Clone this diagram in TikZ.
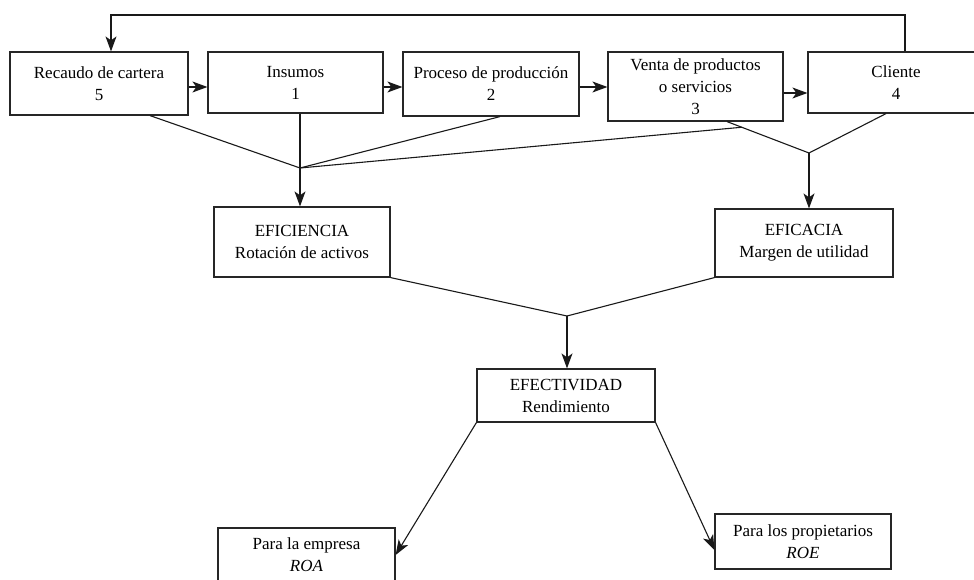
\documentclass[tikz,border=0pt]{standalone}
\usepackage{fontspec}
\setmainfont{Liberation Serif}
\usetikzlibrary{arrows.meta,calc}
\begin{document}
\begin{tikzpicture}[x=1pt,y=-1pt,
  box/.style={draw=black!85,line width=1.2pt,align=center,inner sep=0pt,
    font=\fontsize{17}{22}\selectfont},
  conn/.style={line width=1.1pt,black!90},
  arr/.style={conn,-{Stealth[length=15pt,width=11pt,inset=4pt]}}]
\useasboundingbox (0,0) rectangle (974,580);
% top row
\node[box,minimum width=178pt,minimum height=63pt] (rec) at (99,83.5) {\raisebox{-2pt}{\parbox{170pt}{\centering Recaudo de cartera\\5}}};
\node[box,minimum width=175pt,minimum height=61pt] (ins) at (295.5,82.5) {\raisebox{-3pt}{\parbox{170pt}{\centering Insumos\\1}}};
\node[box,minimum width=176pt,minimum height=64pt] (pro) at (491,84) {\raisebox{-2pt}{\parbox{172pt}{\centering Proceso de producción\\2}}};
\node[box,minimum width=175pt,minimum height=69pt] (ven) at (695.5,86.5) {Venta de productos\\o servicios\\3};
\node[box,minimum width=176pt,minimum height=61pt] (cli) at (896,82.5) {Cliente\\4};
% middle
\node[box,minimum width=176pt,minimum height=70pt] (efi) at (302,242) {EFICIENCIA\\Rotación de activos};
\node[box,minimum width=178pt,minimum height=68pt] (efc) at (804,243) {EFICACIA\\Margen de utilidad};
\node[box,minimum width=178pt,minimum height=53pt] (efe) at (566,395.5) {EFECTIVIDAD\\Rendimiento};
% bottom
\node[box,minimum width=177pt,minimum height=54pt] (roa) at (306.5,555) {Para la empresa\\\textit{ROA}};
\node[box,minimum width=176pt,minimum height=55pt] (roe) at (803,541.5) {Para los propietarios\\\textit{ROE}};
% helper coordinates
\coordinate (t1) at (905,15);
\coordinate (t2) at (111,15);
\coordinate (r1) at (0,87);
\coordinate (r2) at (0,93);
\coordinate (J1) at (300,168);
\coordinate (J2) at (809,153);
\coordinate (J3) at (567,316);
\coordinate (s1) at (150,0);
\coordinate (s2) at (500,0);
\coordinate (s3) at (727,0);
\coordinate (s4) at (886,0);
\coordinate (ea) at (0,555);
\coordinate (eb) at (0,550);
% feedback loop
\draw[arr] (t1 |- cli.north) -- (t1) -- (t2) -- (t2 |- rec.north);
% horizontal flow
\draw[arr] (rec.east |- r1) -- (ins.west |- r1);
\draw[arr] (ins.east |- r1) -- (pro.west |- r1);
\draw[arr] (pro.east |- r1) -- (ven.west |- r1);
\draw[arr] (ven.east |- r2) -- (cli.west |- r2);
% convergence to EFICIENCIA
\coordinate (vb) at (s3 |- ven.south);
\coordinate (vx) at ($(vb)!0.18!(J2)$);
\draw[conn] (s1 |- rec.south) -- (J1);
\draw[conn] (J1 |- ins.south) -- (J1);
\draw[conn] (s2 |- pro.south) -- (J1);
\draw[conn] (vx) -- (J1);
\draw[arr] (J1) -- (J1 |- efi.north);
% convergence to EFICACIA
\draw[conn] (vb) -- (J2);
\draw[conn] (s4 |- cli.south) -- (J2);
\draw[arr] (J2) -- (J2 |- efc.north);
% convergence to EFECTIVIDAD
\draw[conn] (efi.south east) -- (J3);
\draw[conn] (efc.south west) -- (J3);
\draw[arr] (J3) -- (J3 |- efe.north);
% outputs
\draw[arr] (efe.south west) -- (roa.east |- ea);
\draw[arr] (efe.south east) -- (roe.west |- eb);
\end{tikzpicture}
\end{document}
